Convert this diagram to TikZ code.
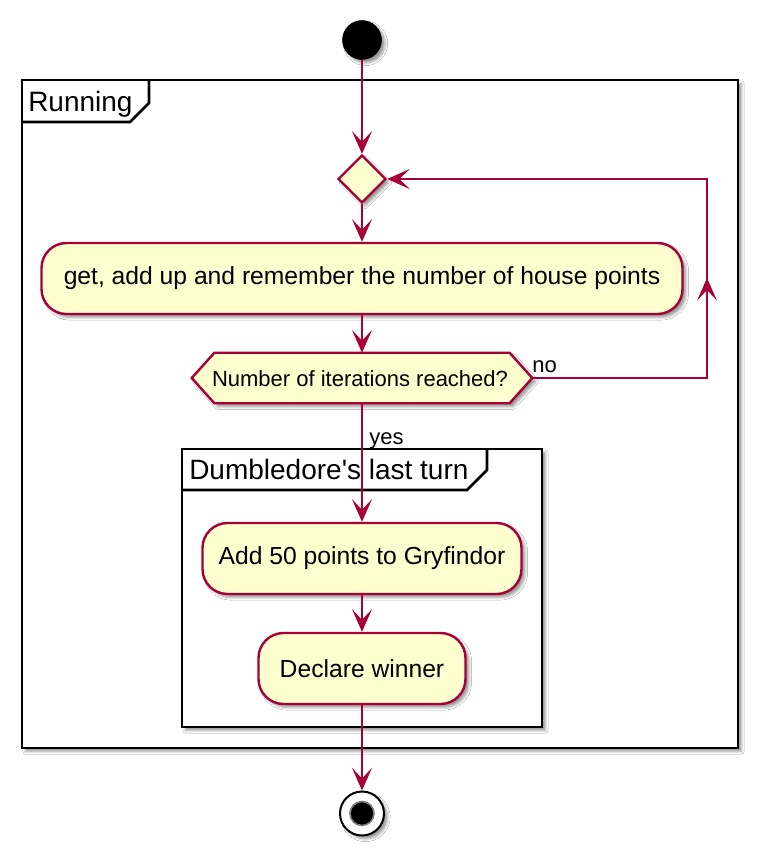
\documentclass[tikz,border=0pt]{standalone}
\usepackage{fontspec}
\setmainfont{Liberation Sans}
\usetikzlibrary{shapes.geometric,arrows.meta,shadows.blur}
\definecolor{umlred}{HTML}{A80036}
\definecolor{umlfill}{HTML}{FEFECE}
\tikzset{
  shad/.style={blur shadow={shadow xshift=2.6pt, shadow yshift=-2.6pt, shadow blur radius=2pt, shadow opacity=40}},
  frm/.style={draw=black, line width=2.1pt, fill=white, shad, rectangle, inner sep=0pt},
  tabline/.style={draw=black, line width=2.1pt},
  frmtitle/.style={font=\fontsize{21}{24}\selectfont, inner sep=0pt, anchor=base west},
  actbox/.style={draw=umlred, fill=umlfill, line width=1.8pt, rectangle, rounded corners=18.75pt, shad,
     minimum height=53.25pt, inner sep=0pt, font=\fontsize{18.5}{21}\selectfont},
  hexline/.style={draw=umlred, fill=umlfill, line width=1.8pt, shad, line join=miter},
  arr/.style={draw=umlred, line width=1.5pt, -{Stealth[length=17pt, width=15pt, inset=8pt]}},
  lbl/.style={font=\fontsize{16.5}{19}\selectfont, inner sep=0pt, anchor=base west},
}
\begin{document}
\begin{tikzpicture}[x=0.75pt, y=-0.75pt]
\useasboundingbox (0,0) rectangle (770,867);
\fill[white] (0,0) rectangle (770,867);

% frames
\node[frm, minimum width=537pt, minimum height=501pt] (running) at (380,414) {};
\draw[tabline] (22,122) -- (130,122) -- (149,103) -- (149,80);
\node[frmtitle] (runningt) at (28,111) {Running};

\node[frm, minimum width=270pt, minimum height=208.5pt] (dumb) at (362,588) {};
\draw[tabline] (182,490) -- (467,490) -- (487,470) -- (487,449);
\node[frmtitle] (dumbt) at (189,479) {Dumbledore\textquotesingle s last turn};

% start / end
\node[circle, fill=black, draw=black, minimum size=29.25pt, inner sep=0pt, shad] (start) at (362,40) {};
\node[circle, fill=white, draw=black, line width=1.5pt, minimum size=33pt, inner sep=0pt, shad] (end) at (362,813.5) {};
\node[circle, fill=black, draw=gray, line width=1.2pt, minimum size=18pt, inner sep=0pt] (endin) at (362,813.5) {};

% merge diamond
\node[diamond, aspect=1, draw=umlred, fill=umlfill, line width=1.8pt, minimum width=36pt, minimum height=36pt, inner sep=0pt, shad] (merge) at (362,179) {};

% actions
\node[actbox, minimum width=480.75pt] (act1) at (362,278.5) {get, add up and remember the number of house points};
\node[actbox, minimum width=239.25pt] (act2) at (362,558.5) {Add 50 points to Gryfindor};
\node[actbox, minimum width=155.25pt] (act3) at (362,668.5) {Declare winner};

% decision hexagon
\node[rectangle, minimum width=255pt, minimum height=37.5pt, inner sep=0pt] (dec) at (362,378) {};
\path[hexline] (dec.west) -- ([xshift=17pt]dec.north west) -- ([xshift=-17pt]dec.north east) -- (dec.east)
  -- ([xshift=-17pt]dec.south east) -- ([xshift=17pt]dec.south west) -- cycle;
\node[font=\fontsize{16.5}{19}\selectfont, inner sep=0pt] (dect) at (360,379) {Number of iterations reached?};

% connectors
\draw[arr] (start) -- (merge);
\draw[arr] (merge) -- (act1);
\draw[arr] (act1) -- (dec.north);
\draw[arr] (dec.south) -- (act2);
\draw[arr] (act2) -- (act3);
\draw[arr] (act3) -- (end);

\coordinate (lp1) at (707,378);
\coordinate (lpmid) at (707,278);
\coordinate (lp2) at (707,179);
\draw[arr] (dec.east) -- (lp1) -- (lp2) -- (merge.east);
\draw[arr] (lp1) -- (lpmid);

\node[lbl] (no) at (532,372) {no};
\node[lbl] (yes) at (369,444) {yes};
\end{tikzpicture}
\end{document}
